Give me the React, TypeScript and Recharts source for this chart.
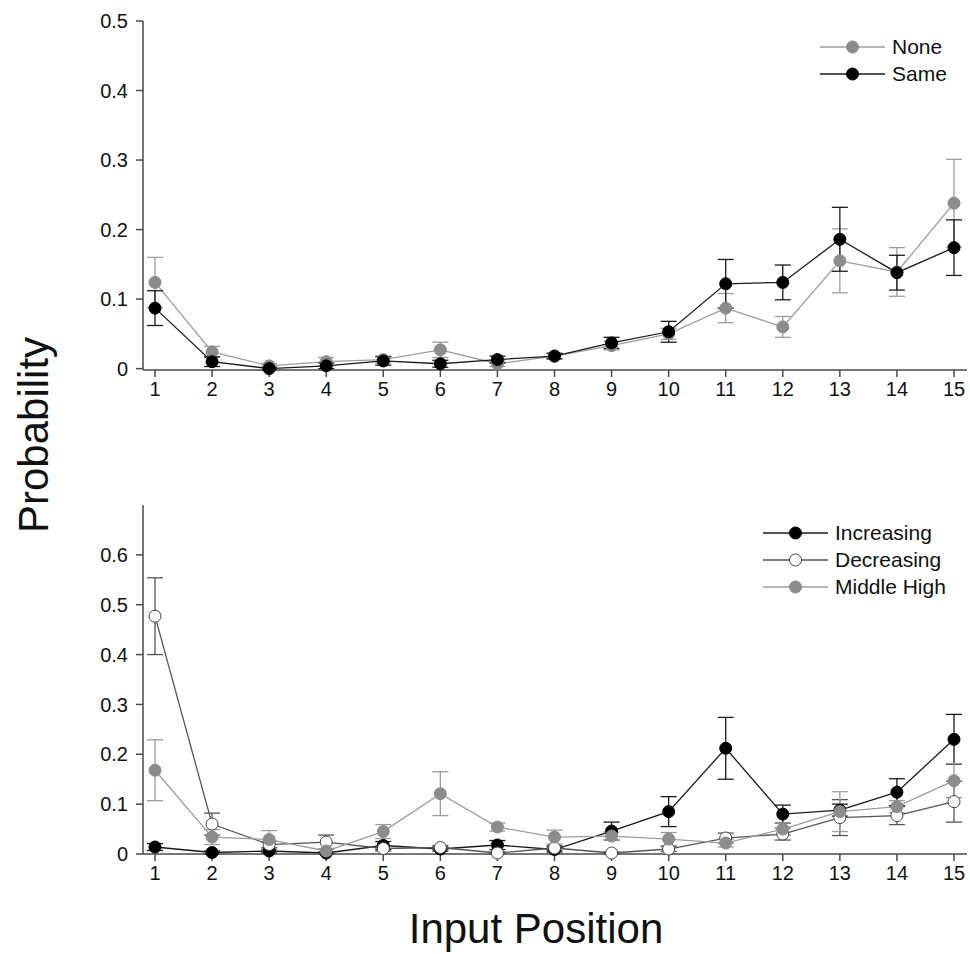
import { LineChart, Line, XAxis, YAxis, ErrorBar, Legend } from 'recharts';

const positions = [1, 2, 3, 4, 5, 6, 7, 8, 9, 10, 11, 12, 13, 14, 15];

// top panel
const noneMean = [0.124, 0.024, 0.004, 0.01, 0.013, 0.027, 0.007, 0.018, 0.033, 0.05, 0.087, 0.06, 0.155, 0.139, 0.238];
const noneErr = [0.036, 0.008, 0.003, 0.006, 0.005, 0.011, 0.004, 0.004, 0.006, 0.008, 0.021, 0.015, 0.046, 0.035, 0.063];
const sameMean = [0.087, 0.01, 0.0, 0.004, 0.011, 0.007, 0.013, 0.018, 0.037, 0.053, 0.122, 0.124, 0.186, 0.138, 0.174];
const sameErr = [0.025, 0.007, 0.002, 0.004, 0.006, 0.005, 0.005, 0.004, 0.008, 0.015, 0.035, 0.025, 0.046, 0.025, 0.04];

// bottom panel
const incMean = [0.014, 0.003, 0.006, 0.002, 0.017, 0.01, 0.018, 0.009, 0.046, 0.085, 0.212, 0.08, 0.088, 0.124, 0.23];
const incErr = [0.007, 0.003, 0.004, 0.002, 0.008, 0.004, 0.009, 0.005, 0.018, 0.03, 0.062, 0.018, 0.012, 0.027, 0.05];
const decMean = [0.477, 0.06, 0.019, 0.024, 0.011, 0.013, 0.002, 0.012, 0.002, 0.01, 0.032, 0.04, 0.073, 0.077, 0.105];
const decErr = [0.077, 0.022, 0.006, 0.014, 0.005, 0.004, 0.002, 0.005, 0.002, 0.005, 0.01, 0.012, 0.036, 0.018, 0.041];
const midMean = [0.168, 0.034, 0.029, 0.006, 0.045, 0.121, 0.054, 0.034, 0.036, 0.03, 0.022, 0.05, 0.085, 0.095, 0.147];
const midErr = [0.061, 0.015, 0.018, 0.005, 0.014, 0.044, 0.008, 0.014, 0.008, 0.013, 0.008, 0.012, 0.04, 0.012, 0.034];

const topTicks = [0, 0.1, 0.2, 0.3, 0.4, 0.5];
const bottomTicks = [0, 0.1, 0.2, 0.3, 0.4, 0.5, 0.6];

const FONT = '"Liberation Sans", Arial, Helvetica, sans-serif';
const AXIS = '#4a4a4a';
const GRAY = '#8c8c8c';
const LIGHT = '#9c9c9c';
const DARK = '#1a1a1a';
const MID = '#555555';

const topData = positions.map((p, i) => ({
  pos: p, none: noneMean[i], noneE: noneErr[i], same: sameMean[i], sameE: sameErr[i],
}));
const bottomData = positions.map((p, i) => ({
  pos: p, inc: incMean[i], incE: incErr[i], dec: decMean[i], decE: decErr[i], mid: midMean[i], midE: midErr[i],
}));

interface LegendItem {
  name: string;
  line: string;
  fill: string;
  stroke: string;
}

function LegendBox({ items }: { items: LegendItem[] }) {
  return (
    <svg width={200} height={items.length * 27 + 10} style={{ display: 'block', overflow: 'visible' }}>
      {items.map((it, i) => {
        const y = 17 + i * 27;
        return (
          <g key={it.name}>
            <line x1={5} x2={70} y1={y} y2={y} stroke={it.line} strokeWidth={1.3} />
            <circle cx={37.5} cy={y} r={6} fill={it.fill} stroke={it.stroke} strokeWidth={1} />
            <text x={77} y={y} dy="0.35em" fontSize={21} fontFamily={FONT} fill="#111">{it.name}</text>
          </g>
        );
      })}
    </svg>
  );
}

const topLegend: LegendItem[] = [
  { name: 'None', line: LIGHT, fill: GRAY, stroke: GRAY },
  { name: 'Same', line: DARK, fill: '#000', stroke: '#000' },
];
const bottomLegend: LegendItem[] = [
  { name: 'Increasing', line: DARK, fill: '#000', stroke: '#000' },
  { name: 'Decreasing', line: MID, fill: '#fff', stroke: '#444' },
  { name: 'Middle High', line: LIGHT, fill: GRAY, stroke: GRAY },
];

const tickStyle = { fill: '#111', fontSize: 20, fontFamily: FONT };
const axisLine = { stroke: AXIS, strokeWidth: 1.5 };
const tickLine = { stroke: AXIS, strokeWidth: 1.5 };

function fmt(v: number) {
  return v === 0 ? '0' : v.toFixed(1);
}

function xAxis() {
  return (
    <XAxis
      dataKey="pos"
      padding={{ left: 12, right: 13 }}
      tick={tickStyle}
      axisLine={axisLine}
      tickLine={tickLine}
      tickSize={7}
      tickMargin={5}
      interval={0}
      height={40}
    />
  );
}

export default function App() {
  const chartMargin = { top: 21, right: 3, left: 0, bottom: 0 };
  return (
    <div style={{ position: 'absolute', left: 0, top: 0, width: 970, height: 954, background: '#fff' }}>
      <svg width={970} height={954} style={{ position: 'absolute', left: 0, top: 0 }}>
        <text x={48} y={435} transform="rotate(-90, 48, 435)" textAnchor="middle" fontSize={42} fontFamily={FONT} fill="#111">
          Probability
        </text>
        <text x={536} y={943} textAnchor="middle" fontSize={42} fontFamily={FONT} fill="#111">
          Input Position
        </text>
      </svg>

      <LineChart width={970} height={410} data={topData} margin={chartMargin} style={{ position: 'absolute', left: 0, top: 0 }}>
        {xAxis()}
        <YAxis
          domain={[0, 0.5]}
          ticks={topTicks}
          tickFormatter={fmt}
          tick={tickStyle}
          axisLine={axisLine}
          tickLine={tickLine}
          tickSize={7}
          tickMargin={8}
          width={143}
        />
        <Legend
          layout="horizontal"
          verticalAlign="middle"
          align="center"
          content={() => <LegendBox items={topLegend} />}
          wrapperStyle={{ position: 'absolute', left: 815, top: 30, width: 200 }}
        />
        <Line dataKey="none" stroke={LIGHT} strokeWidth={1.3} isAnimationActive={false} activeDot={false}
          dot={{ r: 6, fill: GRAY, stroke: GRAY, strokeWidth: 1 }}>
          <ErrorBar dataKey="noneE" direction="y" width={8} stroke={LIGHT} strokeWidth={1.3} />
        </Line>
        <Line dataKey="same" stroke={DARK} strokeWidth={1.3} isAnimationActive={false} activeDot={false}
          dot={{ r: 6, fill: '#000', stroke: '#000', strokeWidth: 1 }}>
          <ErrorBar dataKey="sameE" direction="y" width={8} stroke={DARK} strokeWidth={1.3} />
        </Line>
      </LineChart>

      <LineChart width={970} height={410} data={bottomData} margin={chartMargin} style={{ position: 'absolute', left: 0, top: 484 }}>
        {xAxis()}
        <YAxis
          domain={[0, 0.7]}
          ticks={bottomTicks}
          tickFormatter={fmt}
          tick={tickStyle}
          axisLine={axisLine}
          tickLine={tickLine}
          tickSize={7}
          tickMargin={8}
          width={143}
        />
        <Legend
          layout="horizontal"
          verticalAlign="middle"
          align="center"
          content={() => <LegendBox items={bottomLegend} />}
          wrapperStyle={{ position: 'absolute', left: 758, top: 32, width: 200 }}
        />
        <Line dataKey="inc" stroke={DARK} strokeWidth={1.3} isAnimationActive={false} activeDot={false}
          dot={{ r: 6, fill: '#000', stroke: '#000', strokeWidth: 1 }}>
          <ErrorBar dataKey="incE" direction="y" width={8} stroke={DARK} strokeWidth={1.3} />
        </Line>
        <Line dataKey="dec" stroke={MID} strokeWidth={1.3} isAnimationActive={false} activeDot={false}
          dot={{ r: 6, fill: '#fff', stroke: '#444', strokeWidth: 1 }}>
          <ErrorBar dataKey="decE" direction="y" width={8} stroke={MID} strokeWidth={1.3} />
        </Line>
        <Line dataKey="mid" stroke={LIGHT} strokeWidth={1.3} isAnimationActive={false} activeDot={false}
          dot={{ r: 6, fill: GRAY, stroke: GRAY, strokeWidth: 1 }}>
          <ErrorBar dataKey="midE" direction="y" width={8} stroke={LIGHT} strokeWidth={1.3} />
        </Line>
      </LineChart>
    </div>
  );
}
